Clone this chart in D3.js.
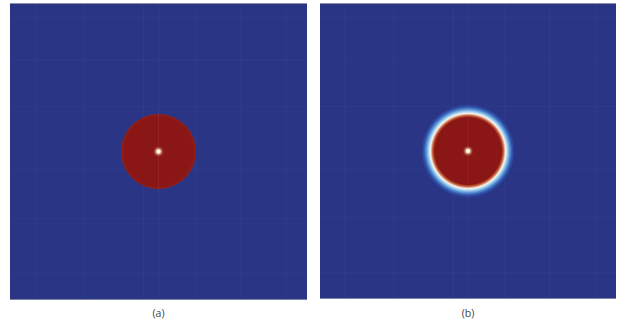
<!DOCTYPE html>
<html>
<head>
<meta charset="utf-8">
<script src="https://cdn.jsdelivr.net/npm/d3@7/dist/d3.min.js"></script>
<style>
  html, body { margin: 0; padding: 0; background: #ffffff; }
  svg { display: block; }
</style>
</head>
<body>
<script>
// Two snapshots of a concentration field on the unit square [-1, 1] x [-1, 1].
const panelLabels = ["(a)", "(b)"];

// Radial concentration profile (distance from the source, field value 0..1)
const radiusA = [0, 0.236, 0.248, 0.256];
const valueA  = [1, 1, 0.97, 0];

const radiusB = [0, 0.226, 0.240, 0.254, 0.268, 0.282, 0.298, 0.316];
const valueB  = [1, 1, 0.78, 0.56, 0.43, 0.28, 0.11, 0];

// Point source at the origin
const sourceX = [0];
const sourceY = [0];

// Lines of the computational mesh (domain units)
const meshX = [-0.83, -0.5, -0.1, 0, 0.25, 0.55, 0.86];
const meshY = [-0.82, -0.45, -0.12, 0.3, 0.62, 0.9];

// Colour map: field value -> colour
const colourValues = [0, 0.12, 0.3, 0.45, 0.56, 0.68, 0.8, 1];
const colourRange  = ["#2a3586", "#2f56ae", "#5c9ad8", "#a9d6f2", "#f7f6ee", "#f1dc9a", "#c24a2c", "#8b1712"];

const W = 620, H = 324;
const svg = d3.select("body").append("svg").attr("width", W).attr("height", H);
const defs = svg.append("defs");

const colour = d3.scaleLinear().domain(colourValues).range(colourRange).interpolate(d3.interpolateRgb);

const soft = defs.append("filter").attr("id", "soft")
  .attr("x", "-20%").attr("y", "-20%").attr("width", "140%").attr("height", "140%");
soft.append("feGaussianBlur").attr("stdDeviation", 0.7);

const glow = defs.append("filter").attr("id", "glow")
  .attr("x", "-100%").attr("y", "-100%").attr("width", "300%").attr("height", "300%");
glow.append("feGaussianBlur").attr("stdDeviation", 0.9);

const panels = [
  { label: panelLabels[0], left: 10,  top: 3, size: 297, radius: radiusA, value: valueA },
  { label: panelLabels[1], left: 320, top: 3, size: 296, radius: radiusB, value: valueB }
];

panels.forEach((p, i) => {
  const x = d3.scaleLinear().domain([-1, 1]).range([p.left, p.left + p.size]);
  const y = d3.scaleLinear().domain([1, -1]).range([p.top, p.top + p.size]);
  const pxPerUnit = x(1) - x(0);
  const g = svg.append("g");

  // background: field value 0 everywhere outside the plume
  g.append("rect")
    .attr("x", x(-1)).attr("y", y(1))
    .attr("width", x(1) - x(-1)).attr("height", y(-1) - y(1))
    .attr("fill", colour(0));

  // faint mesh lines
  g.selectAll("line.mx").data(meshX).join("line")
    .attr("x1", d => x(d)).attr("x2", d => x(d))
    .attr("y1", y(1)).attr("y2", y(-1))
    .attr("stroke", "#8fa0e0").attr("stroke-opacity", 0.07).attr("stroke-width", 1);
  g.selectAll("line.my").data(meshY).join("line")
    .attr("y1", d => y(d)).attr("y2", d => y(d))
    .attr("x1", x(-1)).attr("x2", x(1))
    .attr("stroke", "#8fa0e0").attr("stroke-opacity", 0.06).attr("stroke-width", 1);

  // plume: radial profile mapped through the colour scale
  const rMax = d3.max(p.radius);
  const grad = defs.append("radialGradient").attr("id", "plume" + i)
    .attr("cx", 0.5).attr("cy", 0.5).attr("r", 0.5);
  grad.selectAll("stop").data(p.radius).join("stop")
    .attr("offset", d => d / rMax)
    .attr("stop-color", (d, j) => colour(p.value[j]));

  g.append("circle")
    .attr("cx", x(0)).attr("cy", y(0))
    .attr("r", rMax * pxPerUnit)
    .attr("fill", `url(#plume${i})`)
    .attr("filter", "url(#soft)");

  // mesh line through the source stays faintly visible
  g.append("line")
    .attr("x1", x(0)).attr("x2", x(0))
    .attr("y1", y(rMax)).attr("y2", y(-rMax))
    .attr("stroke", "#d08080").attr("stroke-opacity", 0.12);

  // point source
  g.selectAll("circle.src").data(d3.zip(sourceX, sourceY)).join("circle")
    .attr("cx", d => x(d[0])).attr("cy", d => y(d[1]))
    .attr("r", 3.2).attr("fill", "#f4d7a6").attr("filter", "url(#glow)");
  g.selectAll("circle.src2").data(d3.zip(sourceX, sourceY)).join("circle")
    .attr("cx", d => x(d[0])).attr("cy", d => y(d[1]))
    .attr("r", 2).attr("fill", "#fffbee");

  // frame edges
  g.append("line")
    .attr("x1", x(-1)).attr("x2", x(1)).attr("y1", y(1) + 0.5).attr("y2", y(1) + 0.5)
    .attr("stroke", "#8a90a8").attr("stroke-width", 1);
  g.append("line")
    .attr("x1", x(-1)).attr("x2", x(1)).attr("y1", y(-1) - 0.5).attr("y2", y(-1) - 0.5)
    .attr("stroke", "#7c82a4").attr("stroke-width", 1);

  // caption
  svg.append("text")
    .attr("x", x(0)).attr("y", 317)
    .attr("text-anchor", "middle")
    .attr("font-family", "Open Sans, DejaVu Sans, sans-serif")
    .attr("font-size", 10.5)
    .attr("fill", "#444")
    .text(p.label);
});
</script>
</body>
</html>
